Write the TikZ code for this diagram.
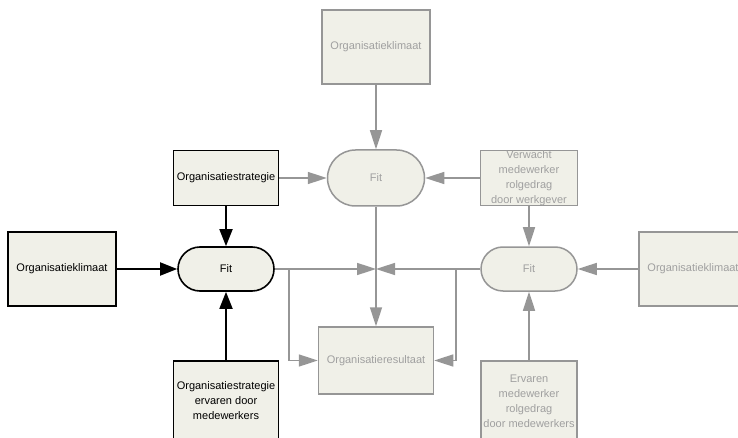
\documentclass[tikz,border=0pt]{standalone}
\usepackage{fontspec}
\setmainfont{Liberation Sans}
\usetikzlibrary{arrows.meta}
\definecolor{boxfill}{RGB}{240,240,232}
\definecolor{lightline}{RGB}{150,150,150}
\definecolor{lighttext}{RGB}{160,160,160}
\begin{document}
\begin{tikzpicture}[x=1pt,y=-1pt,
  box/.style={draw=black,fill=boxfill,line width=1.6pt,inner sep=0pt,
    font=\fontsize{11}{15}\selectfont,align=center},
  gbox/.style={box,draw=lightline,line width=1.5pt,text=lighttext},
  fitbox/.style={minimum width=96pt,minimum height=44pt,rounded corners=22pt},
  blackarrow/.style={draw=black,line width=1.8pt,-{Triangle[length=17pt,width=13pt]}},
  grayarrow/.style={draw=lightline,line width=1.6pt,-{Triangle[length=19pt,width=12pt]}},
  gtext/.style={text=lighttext,font=\fontsize{11}{15}\selectfont,align=center,inner sep=0pt}]
\path[use as bounding box] (0,0) rectangle (738,438);
\node[gbox,minimum width=108pt,minimum height=74pt] (klimTop) at (376,47) {Organisatieklimaat};
\node[gbox,fitbox,minimum width=97pt,minimum height=56pt,rounded corners=28pt] (fitTop) at (376,178) {Fit};
\node[gbox,minimum width=97pt,minimum height=55pt] (verw) at (529,178) {};
\node[gtext] (verwText) at (verw) {Verwacht\\medewerker\\rolgedrag\\door werkgever};
\node[gbox,fitbox] (fitRight) at (529,269) {Fit};
\node[gbox,minimum width=108pt,minimum height=74pt] (klimRight) at (693,269) {Organisatieklimaat};
\node[gbox,minimum width=115pt,minimum height=67pt] (result) at (376,360.5) {Organisatieresultaat};
\node[gbox,minimum width=96pt,minimum height=80pt] (ervaren) at (529,401) {Ervaren\\medewerker\\rolgedrag\\door medewerkers};
\node[box,minimum width=105pt,minimum height=55pt] (strat) at (226,178) {Organisatiestrategie};
\node[box,fitbox] (fitLeft) at (226,269) {Fit};
\node[box,minimum width=108pt,minimum height=74pt] (klimLeft) at (62,269) {Organisatieklimaat};
\node[box,minimum width=105pt,minimum height=80pt] (stratErv) at (226,401) {Organisatiestrategie\\ervaren door\\medewerkers};
\coordinate (hub) at (376,269);
\draw[grayarrow] (klimTop) -- (fitTop);
\draw[grayarrow] (strat.east) -- (fitTop.west);
\draw[grayarrow] (verw.west) -- (fitTop.east);
\draw[grayarrow] (verw) -- (fitRight);
\draw[grayarrow] (klimRight) -- (fitRight);
\draw[grayarrow] (ervaren) -- (fitRight);
\draw[grayarrow] (fitTop) -- (result);
\draw[grayarrow] (fitLeft.east) -- (hub);
\draw[grayarrow] (fitRight.west) -- (hub);
\draw[grayarrow] (fitLeft.east) -- ++(14,0) |- (result.west);
\draw[grayarrow] (fitRight.west) -- ++(-24,0) |- (result.east);
\draw[blackarrow] (strat) -- (fitLeft);
\draw[blackarrow] (klimLeft) -- (fitLeft);
\draw[blackarrow] (stratErv) -- (fitLeft);
\end{tikzpicture}
\end{document}
